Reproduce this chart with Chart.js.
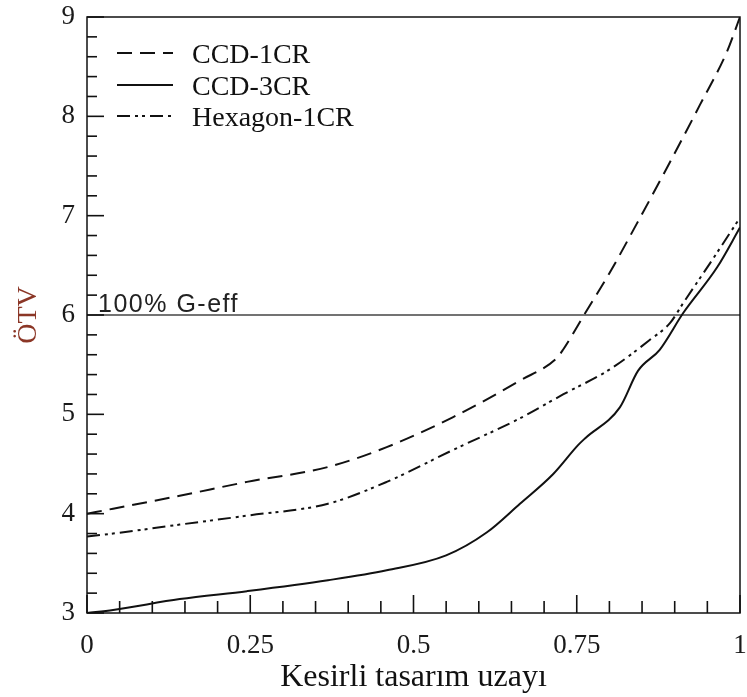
<!DOCTYPE html>
<html>
<head>
<meta charset="utf-8">
<script src="https://cdn.jsdelivr.net/npm/chart.js@4/dist/chart.umd.min.js"></script>
<style>
  html, body { margin: 0; padding: 0; background: #fff; }
  canvas { display: block; }
</style>
</head>
<body>
<canvas id="chart" width="747" height="697"></canvas>
<script>
// values
const seriesNames = ['CCD-1CR', 'CCD-3CR', 'Hexagon-1CR']

const ccd1X = [0, 0.04, 0.142, 0.245, 0.369, 0.459, 0.56, 0.663, 0.72, 0.729, 0.763, 0.80, 0.842, 0.888, 0.939, 0.98, 1.0]
const ccd1Y = [4.00, 4.05, 4.18, 4.32, 4.47, 4.67, 4.97, 5.34, 5.57, 5.65, 6.02, 6.42, 6.92, 7.48, 8.12, 8.65, 9.0]

const ccd3X = [0, 0.04, 0.142, 0.245, 0.369, 0.459, 0.55, 0.612, 0.663, 0.714, 0.752, 0.763, 0.816, 0.844, 0.877, 0.913, 0.965, 1.0]
const ccd3Y = [3.0, 3.03, 3.14, 3.22, 3.33, 3.43, 3.58, 3.81, 4.10, 4.40, 4.69, 4.76, 5.07, 5.44, 5.65, 6.02, 6.48, 6.88]

const hexX = [0, 0.04, 0.142, 0.245, 0.369, 0.459, 0.56, 0.663, 0.729, 0.80, 0.862, 0.893, 0.913, 0.954, 1.0]
const hexY = [3.77, 3.80, 3.89, 3.98, 4.10, 4.32, 4.64, 4.96, 5.20, 5.45, 5.75, 5.92, 6.12, 6.52, 6.98]

const refLineX = [0, 1]
const refLineY = [6, 6]
const refLabel = '100% G-eff'

const xTickLabels = ['0', '0.25', '0.5', '0.75', '1']
const yTickLabels = ['3', '4', '5', '6', '7', '8', '9']

const xTitle = 'Kesirli tasarım uzayı'
const yTitle = 'ÖTV'

const toPoints = (xs, ys) => xs.map((x, i) => ({ x: x, y: ys[i] }))

const serif = "'Liberation Serif', 'Times New Roman', serif"
const dashes = [[15, 8], [], [13, 5, 3, 4, 3, 5]]

// scales should not push the plot inwards for their end labels
const noEdgePadding = s => {
    s.paddingTop = 0
    s.paddingBottom = 0
    s.paddingLeft = 0
    s.paddingRight = 0
}

// box round the plot, inward ticks, legend and the reference label
const decor = {
    id: 'decor',
    afterDraw(chart) {
        const { ctx, chartArea: a, scales } = chart
        ctx.save()
        ctx.strokeStyle = '#111'
        ctx.lineWidth = 1.5
        ctx.strokeRect(a.left, a.top, a.right - a.left, a.bottom - a.top)

        ctx.lineWidth = 1.6
        scales.x.ticks.forEach(t => {
            const px = scales.x.getPixelForValue(t.value)
            const major = Math.abs(t.value * 4 - Math.round(t.value * 4)) < 1e-6
            ctx.beginPath()
            ctx.moveTo(px, a.bottom)
            ctx.lineTo(px, a.bottom - (major ? 18 : 12))
            ctx.stroke()
        })
        scales.y.ticks.forEach(t => {
            const py = scales.y.getPixelForValue(t.value)
            const major = Math.abs(t.value - Math.round(t.value)) < 1e-6
            ctx.beginPath()
            ctx.moveTo(a.left, py)
            ctx.lineTo(a.left + (major ? 17 : 10), py)
            ctx.stroke()
        })

        // legend
        const rows = [53, 85, 116]
        chart.data.datasets.slice(0, 3).forEach((ds, r) => {
            ctx.strokeStyle = '#111'
            ctx.lineWidth = 2
            ctx.setLineDash(ds.borderDash || [])
            ctx.beginPath()
            ctx.moveTo(117, rows[r])
            ctx.lineTo(173, rows[r])
            ctx.stroke()
            ctx.setLineDash([])
            ctx.fillStyle = '#111'
            ctx.font = '28px ' + serif
            ctx.textBaseline = 'alphabetic'
            ctx.fillText(ds.label, 192, rows[r] + 10)
        })

        // reference label
        ctx.fillStyle = '#222'
        ctx.font = "25px 'Liberation Sans', Arial, sans-serif"
        ctx.letterSpacing = '1.5px'
        ctx.fillText(refLabel, a.left + 11, scales.y.getPixelForValue(6) - 3)
        ctx.restore()
    }
}

new Chart(document.getElementById('chart'), {
    type: 'line',
    data: {
        datasets: [
            { label: seriesNames[0], data: toPoints(ccd1X, ccd1Y), borderDash: dashes[0] },
            { label: seriesNames[1], data: toPoints(ccd3X, ccd3Y), borderDash: dashes[1] },
            { label: seriesNames[2], data: toPoints(hexX, hexY), borderDash: dashes[2] },
            { label: refLabel, data: toPoints(refLineX, refLineY), borderColor: '#444', borderWidth: 1.5, tension: 0 }
        ].map(ds => Object.assign({
            borderColor: '#111',
            borderWidth: 2,
            pointRadius: 0,
            fill: false,
            cubicInterpolationMode: 'monotone'
        }, ds))
    },
    options: {
        responsive: false,
        animation: false,
        devicePixelRatio: 1,
        layout: { padding: { top: 17, right: 7, left: 0, bottom: 0 } },
        plugins: { legend: { display: false }, tooltip: { enabled: false } },
        scales: {
            x: {
                type: 'linear',
                min: 0,
                max: 1,
                grid: { display: false, drawTicks: false },
                border: { display: false },
                ticks: {
                    stepSize: 0.05,
                    autoSkip: false,
                    maxRotation: 0,
                    padding: 17,
                    color: '#1a1a1a',
                    font: { family: serif, size: 27 },
                    callback: v => {
                        const k = Math.round(v * 4)
                        return Math.abs(v * 4 - k) < 1e-6 ? xTickLabels[k] : ''
                    }
                },
                title: {
                    display: true,
                    text: xTitle,
                    color: '#111',
                    font: { family: serif, size: 32 },
                    padding: { top: 0, bottom: 0 }
                },
                afterFit: s => { s.height = 84; noEdgePadding(s) }
            },
            y: {
                min: 3,
                max: 9,
                grid: { display: false, drawTicks: false },
                border: { display: false },
                ticks: {
                    stepSize: 0.2,
                    autoSkip: false,
                    padding: 12,
                    color: '#1a1a1a',
                    font: { family: serif, size: 27 },
                    callback: v => {
                        const k = Math.round(v)
                        return Math.abs(v - k) < 1e-6 ? yTickLabels[k - 3] : ''
                    }
                },
                title: {
                    display: true,
                    text: yTitle,
                    color: '#8b3626',
                    font: { family: serif, size: 28 },
                    padding: { top: 12, bottom: 0 }
                },
                afterFit: s => { s.width = 87; noEdgePadding(s) }
            }
        }
    },
    plugins: [decor]
})
</script>
</body>
</html>
